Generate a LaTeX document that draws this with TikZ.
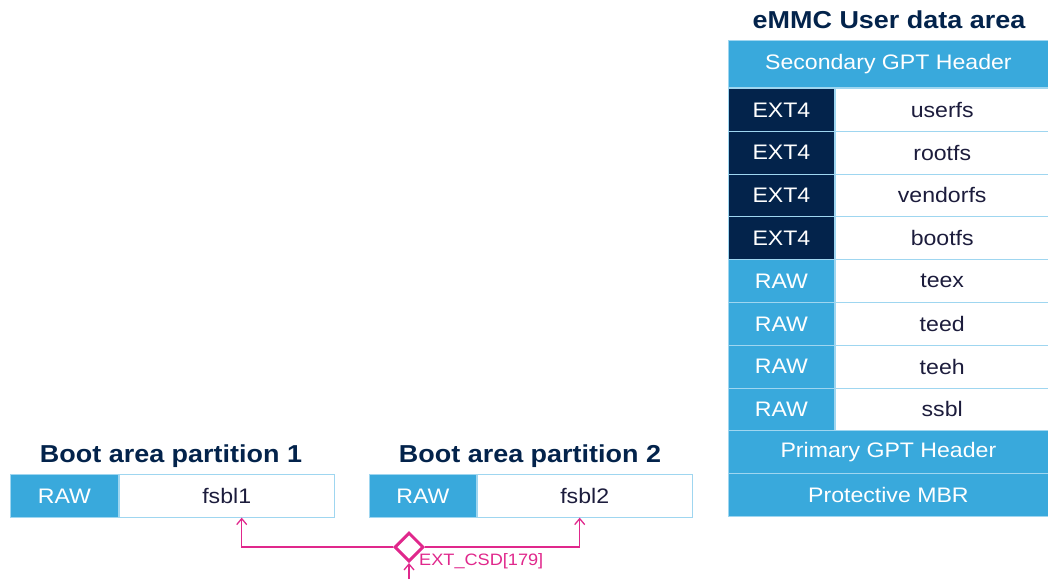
\documentclass[tikz,border=0pt]{standalone}
\usepackage{fontspec}
\setmainfont{Liberation Sans}[FakeStretch=1.1]
\usetikzlibrary{shapes.geometric,arrows.meta}

\definecolor{stblue}{HTML}{39A9DC}
\definecolor{stnavy}{HTML}{03234B}
\definecolor{lineblue}{HTML}{9FD6F0}
\definecolor{sigpink}{HTML}{E0288C}
\definecolor{txtdark}{HTML}{1C1C3C}

\tikzset{
  cell/.style={draw=lineblue, line width=0.8pt, minimum height=42.8pt, inner sep=0pt,
    anchor=north west, font=\fontsize{21}{22}\selectfont},
  rawcell/.style={cell, fill=stblue, text=white, minimum width=106pt},
  extcell/.style={cell, fill=stnavy, text=white, minimum width=106pt},
  namecell/.style={cell, fill=white, text=txtdark, minimum width=214pt},
  widecell/.style={cell, fill=stblue, text=white, minimum width=320pt},
  areatitle/.style={font=\bfseries\fontsize{24.5}{26}\selectfont, text=stnavy},
  sig/.style={draw=sigpink, line width=1.3pt},
}

\begin{document}
\begin{tikzpicture}[x=1pt,y=-1pt]
  \useasboundingbox (0,0) rectangle (1048,579);

  % eMMC user data area
  \node[areatitle] (usertitle) at (889,20) {eMMC User data area};
  \node[widecell, minimum height=47pt] (secgpt) at (728,40) {Secondary GPT Header};
  \foreach \tag/\name/\kind [count=\i] in {EXT4/userfs/extcell, EXT4/rootfs/extcell,
      EXT4/vendorfs/extcell, EXT4/bootfs/extcell, RAW/teex/rawcell, RAW/teed/rawcell,
      RAW/teeh/rawcell, RAW/ssbl/rawcell}
  {
    \node[\kind] (tag\i) at (728,45.2+\i*42.8) {\tag};
    \node[namecell] (part\i) at (tag\i.north east) {\name};
  }
  \node[widecell] (prigpt) at (728,45.2+9*42.8) {Primary GPT Header};
  \node[widecell] (mbr) at (728,45.2+10*42.8) {Protective MBR};

  % boot area partitions
  \node[areatitle] (boottitle1) at (171,456) {Boot area partition 1};
  \node[rawcell, minimum width=108pt] (raw1) at (10,474) {RAW};
  \node[namecell, minimum width=215pt] (fs1) at (raw1.north east) {fsbl1};

  \node[areatitle] (boottitle2) at (530,456) {Boot area partition 2};
  \node[rawcell, minimum width=107pt] (raw2) at (369,474) {RAW};
  \node[namecell, minimum width=215pt] (fs2) at (raw2.north east) {fsbl2};

  % boot partition select
  \node[diamond, draw=sigpink, line width=3pt, fill=white, inner sep=0pt,
    minimum width=29pt, minimum height=29pt] (sel) at (409,547) {};
  \coordinate (selin) at (409,579);
  \draw[sig, -{Straight Barb[length=6pt,width=10pt]}] (sel.west) -| ([xshift=15pt]fs1.south);
  \draw[sig, -{Straight Barb[length=6pt,width=10pt]}] (sel.east) -| ([xshift=-5pt]fs2.south);
  \draw[sig, -{Straight Barb[length=6pt,width=10pt]}] (selin) -- (sel.south);
  \node[anchor=west, inner sep=0pt, text=sigpink, font=\fontsize{16.5}{18}\selectfont]
    (csdlabel) at (419,561) {EXT\_CSD[179]};
\end{tikzpicture}
\end{document}
